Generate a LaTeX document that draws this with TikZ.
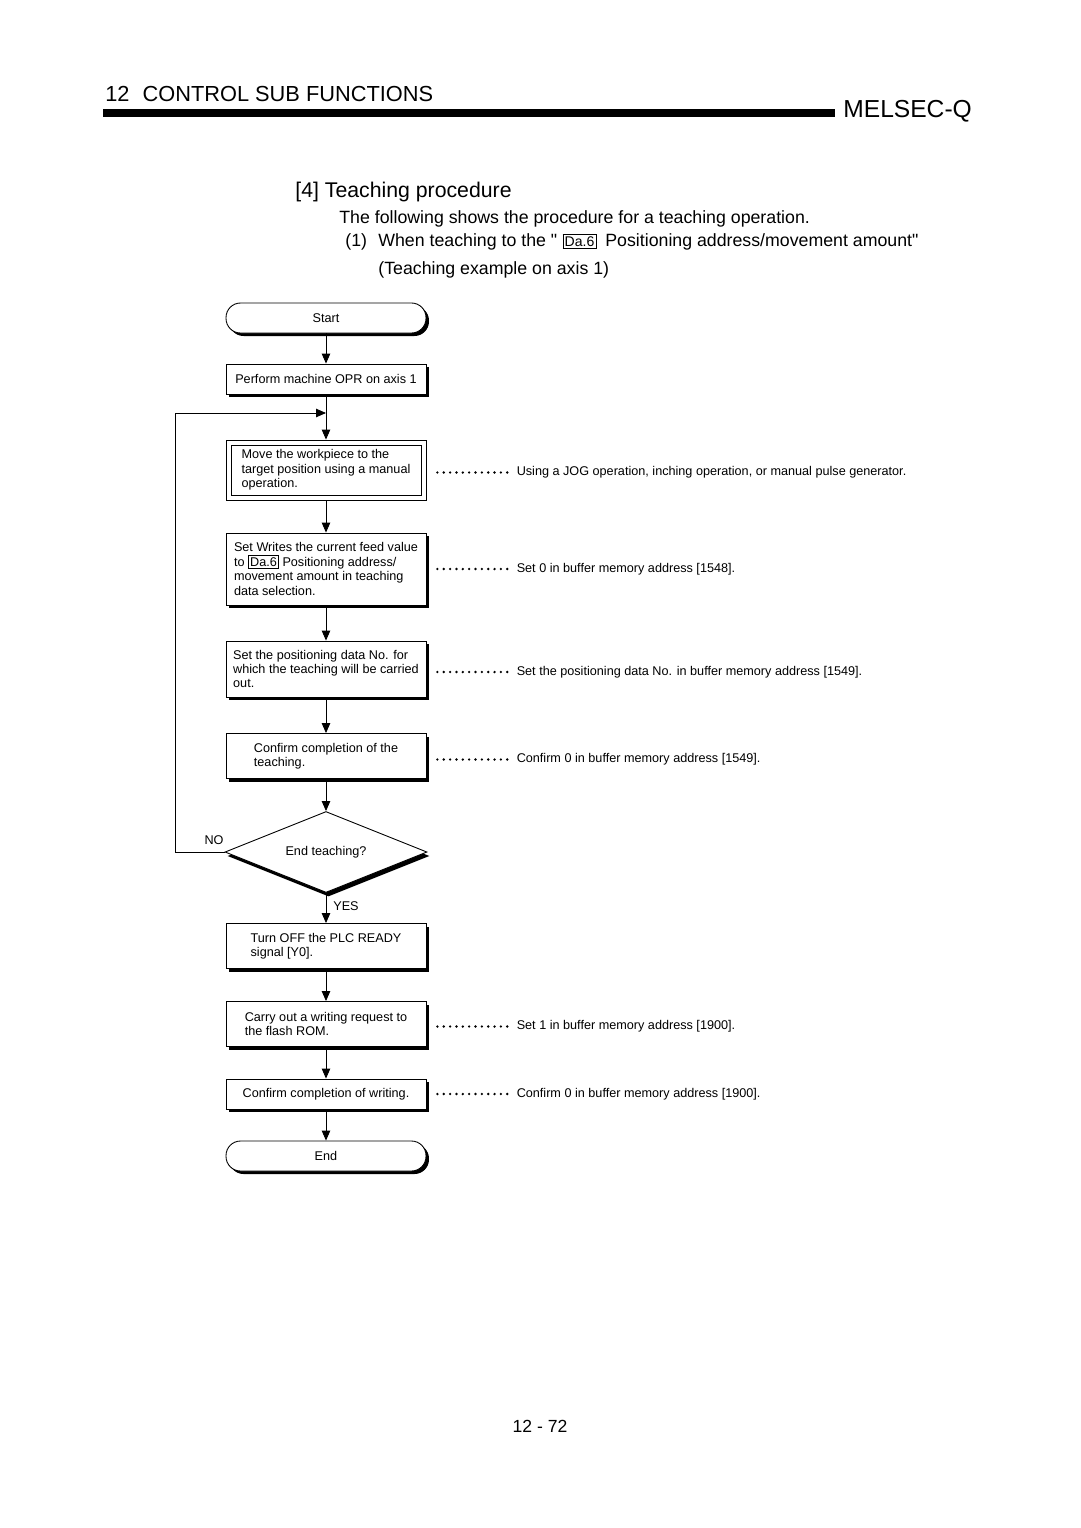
\documentclass[tikz,border=0pt]{standalone}
\usepackage{fontspec}
\setmainfont{Liberation Sans}
\usetikzlibrary{positioning,shapes.geometric,shadows,arrows.meta}

\newcommand{\dabox}[1]{{\setlength{\fboxsep}{0.8pt}\setlength{\fboxrule}{0.4pt}\fbox{#1}}}

\begin{document}
\begin{tikzpicture}[
  x=0.02cm, y=-0.02cm,
  every node/.style={font=\fontsize{7.2}{8.2}\selectfont},
  shade_box/.style={draw, fill=white, line width=0.5pt, minimum width=4cm,
    drop shadow={shadow xshift=0.06cm, shadow yshift=-0.06cm, fill=black, opacity=1}},
  proc/.style={shade_box, align=left},
  term/.style={shade_box, rounded corners=0.29cm, minimum height=0.6cm},
  manual_box/.style={draw, fill=white, line width=0.5pt, minimum width=4cm, minimum height=1.2cm, align=left,
    path picture={\draw[line width=0.5pt] ([shift={(0.1cm,-0.1cm)}]path picture bounding box.north west)
      rectangle ([shift={(-0.1cm,0.1cm)}]path picture bounding box.south east);}},
  decision/.style={diamond, draw, fill=white, line width=0.5pt, aspect=2.5, inner sep=0pt,
    minimum width=4.04cm, minimum height=1.62cm,
    drop shadow={shadow xshift=0.05cm, shadow yshift=-0.08cm, fill=black, opacity=1}},
  note/.style={inner sep=0pt},
  head/.style={anchor=base west, inner sep=0pt},
  flow/.style={-{Triangle[length=0.2cm,width=0.17cm]}, line width=0.5pt},
  leader/.style={line width=1.5pt, line cap=round, dash pattern=on 0pt off 0.127cm,
    shorten <=0.22cm, shorten >=0.18cm}
  ]
	\fill[white] (0,0) rectangle (1080,1528);
	\useasboundingbox (0,0) rectangle (1080,1528);

	% page header
	\node[head, font=\fontsize{12.4}{14}\selectfont] (chapter) at (105,101) {12\hspace{0.6em}CONTROL SUB FUNCTIONS};
	\fill (103,109) rectangle (835,117);
	\node[head, font=\fontsize{14}{16}\selectfont] (series) at (843,117) {MELSEC-Q};

	\node[head, font=\fontsize{12.1}{14}\selectfont] (title) at (295,197) {[4] Teaching procedure};
	\node[head, font=\fontsize{10.1}{12}\selectfont] (intro) at (339,223) {The following shows the procedure for a teaching operation.};
	\node[head, font=\fontsize{10.1}{12}\selectfont] (item) at (345,246) {(1)};
	\node[head, font=\fontsize{10.1}{12}\selectfont] (itemtext) at (378,246) {When teaching to the \textquotedbl\hspace{0.3em}\dabox{\fontsize{8}{9}\selectfont Da.6}\hspace{0.5em}Positioning address/movement amount\textquotedbl};
	\node[head, font=\fontsize{10.1}{12}\selectfont] (example) at (378,274) {(Teaching example on axis 1)};

	% flow chart
	\node[term] (start) at (326,318) {Start};
	\node[proc, minimum height=0.6cm] (opr) at (326,379) {Perform machine OPR on axis 1};
	\node[manual_box] (move) at (326,470) {Move the workpiece to the\\target position using a manual\\operation.};
	\node[proc, minimum height=1.44cm] (feed) at (326,569) {Set Writes the current feed value\\to \dabox{Da.6} Positioning address/\\movement amount in teaching\\data selection.};
	\node[proc, minimum height=1.12cm] (datano) at (326,669) {Set the positioning data No. for\\which the teaching will be carried\\out.};
	\node[proc, minimum height=0.9cm] (confirm) at (326,756) {Confirm completion of the\\teaching.};
	\node[decision] (endq) at (326,852) {End teaching?};
	\node[proc, minimum height=0.9cm] (plcoff) at (326,946) {Turn OFF the PLC READY\\signal [Y0].};
	\node[proc, minimum height=0.9cm] (flash) at (326,1024) {Carry out a writing request to\\the flash ROM.};
	\node[proc, minimum height=0.6cm] (written) at (326,1094) {Confirm completion of writing.};
	\node[term] (end) at (326,1156) {End};

	\node (no) at (214,840) {NO};
	\node (yes) at (346,906) {YES};

	\coordinate (join) at (326,413);
	\coordinate (loop) at (175,413);

	\draw[flow] (start) -- (opr);
	\draw[flow] (opr) -- (move);
	\draw[flow] (move) -- (feed);
	\draw[flow] (feed) -- (datano);
	\draw[flow] (datano) -- (confirm);
	\draw[flow] (confirm) -- (endq);
	\draw[flow] (endq) -- (plcoff);
	\draw[flow] (plcoff) -- (flash);
	\draw[flow] (flash) -- (written);
	\draw[flow] (written) -- (end);
	\draw[flow] (endq.west) -| (loop) -- (join);

	% notes
	\node[note, right=1.8cm of move, yshift=-0.05cm] (move_note) {Using a JOG operation, inching operation, or manual pulse generator.};
	\node[note, right=1.8cm of feed] (feed_note) {Set 0 in buffer memory address [1548].};
	\node[note, right=1.8cm of datano, yshift=-0.06cm] (datano_note) {Set the positioning data No. in buffer memory address [1549].};
	\node[note, right=1.8cm of confirm, yshift=-0.07cm] (confirm_note) {Confirm 0 in buffer memory address [1549].};
	\node[note, right=1.8cm of flash, yshift=-0.05cm] (flash_note) {Set 1 in buffer memory address [1900].};
	\node[note, right=1.8cm of written] (written_note) {Confirm 0 in buffer memory address [1900].};

	\draw[leader] (move.east |- move_note.west) -- (move_note.west);
	\draw[leader] (feed.east |- feed_note.west) -- (feed_note.west);
	\draw[leader] (datano.east |- datano_note.west) -- (datano_note.west);
	\draw[leader] (confirm.east |- confirm_note.west) -- (confirm_note.west);
	\draw[leader] (flash.east |- flash_note.west) -- (flash_note.west);
	\draw[leader] (written.east |- written_note.west) -- (written_note.west);

	\node[font=\fontsize{10}{12}\selectfont] (page) at (540,1426) {12 - 72};
\end{tikzpicture}
\end{document}
